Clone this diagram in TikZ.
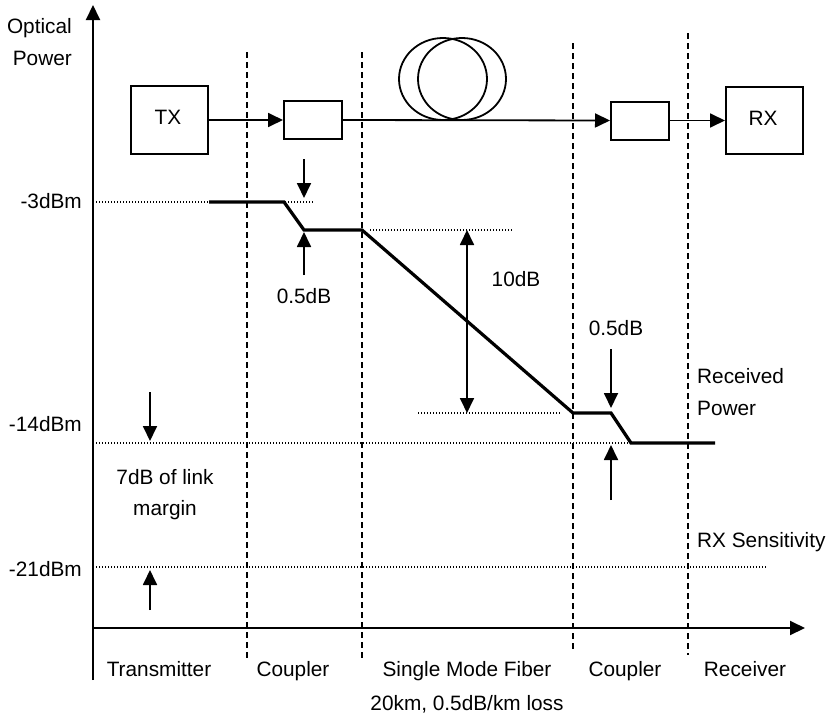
\documentclass[tikz,border=0pt]{standalone}
\usepackage{fontspec}
\setmainfont{Liberation Sans}
\usetikzlibrary{arrows.meta}
\begin{document}
\begin{tikzpicture}[x=1pt,y=-1pt,
  every node/.style={font=\fontsize{20.8}{25}\selectfont, inner sep=0pt},
  tip/.style={-{Triangle[length=15pt,width=14pt]}},
  axisline/.style={line width=2pt, tip},
  boxnode/.style={draw, line width=2pt, minimum width=#1, inner sep=0pt},
  sepline/.style={line width=1.7pt, dash pattern=on 6pt off 4pt},
  guide/.style={line width=1.1pt, dash pattern=on 1pt off 2pt},
  curve/.style={line width=3.2pt},
  mark arrow/.style={line width=1.8pt, tip},
  lbl/.style={anchor=base},
  lble/.style={anchor=base east},
  lblw/.style={anchor=base west}]
\useasboundingbox (0,0) rectangle (833,715);

% axes
\coordinate (yb) at (93,680); \coordinate (yt) at (93,5);
\coordinate (xl) at (93,628); \coordinate (xr) at (805,628);
\draw[axisline] (yb) -- (yt);
\draw[axisline] (xl) -- (xr);

% section separators
\foreach \n/\x/\a/\b in {s1/247/52/658, s2/362/52/658, s3/573/43/652, s4/688/33/655}{
  \coordinate (\n t) at (\x,\a); \coordinate (\n b) at (\x,\b);
  \draw[sepline] (\n t) -- (\n b);
}

% guide lines
\coordinate (g1a) at (96,202); \coordinate (g1b) at (314,202);
\coordinate (g2a) at (370,230); \coordinate (g2b) at (512,230);
\coordinate (g3a) at (418,413); \coordinate (g3b) at (560,413);
\coordinate (g4a) at (96,443); \coordinate (g4b) at (715,443);
\coordinate (g5a) at (96,567); \coordinate (g5b) at (766,567);
\foreach \g in {g1,g2,g3,g4,g5}{ \draw[guide] (\g a) -- (\g b); }

% components
\node[boxnode=77pt, minimum height=68pt] (tx) at (169.5,120) {};
\node[lbl] (txl) at (168,124) {TX};
\node[boxnode=58pt, minimum height=38pt] (c1) at (313,120) {};
\node[boxnode=58pt, minimum height=38pt] (c2) at (640,120.5) {};
\node[boxnode=77pt, minimum height=67pt] (rx) at (764.5,120.5) {};
\node[lbl] (rxl) at (763,125) {RX};
\draw[line width=1.8pt] (443,79) ellipse [x radius=44pt, y radius=41pt];
\draw[line width=1.8pt] (462,79) ellipse [x radius=44pt, y radius=41pt];
\draw[mark arrow] (tx.east) -- (c1.west);
\draw[mark arrow] (c1.east) -- (c2.west);
\draw[mark arrow] (c2.east) -- (rx.west);

% power curve
\draw[curve] (209,202) -- (284,202) -- (304,230) -- (362,230) -- (573,413)
  -- (611,413) -- (631,443) -- (715,443);

% loss markers
\coordinate (a1s) at (304,159); \coordinate (a1e) at (304,198);
\coordinate (a2s) at (304,275); \coordinate (a2e) at (304,232);
\coordinate (a3s) at (467,230); \coordinate (a3e) at (467,413);
\coordinate (a4s) at (611,349); \coordinate (a4e) at (611,408);
\coordinate (a5s) at (611,500); \coordinate (a5e) at (611,445);
\coordinate (a6s) at (150,392); \coordinate (a6e) at (150,441);
\coordinate (a7s) at (150,610); \coordinate (a7e) at (150,570);
\draw[mark arrow] (a1s) -- (a1e);
\draw[mark arrow] (a2s) -- (a2e);
\draw[line width=1.8pt, {Triangle[length=15pt,width=14pt]}-{Triangle[length=15pt,width=14pt]}] (a3s) -- (a3e);
\draw[mark arrow] (a4s) -- (a4e);
\draw[mark arrow] (a5s) -- (a5e);
\draw[mark arrow] (a6s) -- (a6e);
\draw[mark arrow] (a7s) -- (a7e);

% labels
\node[lble] (op) at (72,33) {Optical};
\node[lble] (pw) at (72,65) {Power};
\node[lble] (m3) at (82,208) {-3dBm};
\node[lble] (m14) at (82,431) {-14dBm};
\node[lble] (m21) at (82,576) {-21dBm};
\node[lbl] (l05a) at (304,303) {0.5dB};
\node[lbl] (l10) at (516,286) {10dB};
\node[lbl] (l05b) at (616,335) {0.5dB};
\node[lblw] (rp1) at (697,383) {Received};
\node[lblw] (rp2) at (697,415) {Power};
\node[lblw] (rs) at (697,547) {RX Sensitivity};
\node[lbl] (lm1) at (165,484) {7dB of link};
\node[lbl] (lm2) at (165,515) {margin};
\node[lbl] (b1) at (159,676) {Transmitter};
\node[lbl] (b2) at (293,676) {Coupler};
\node[lbl] (b3) at (467,676) {Single Mode Fiber};
\node[lbl] (b4) at (625,676) {Coupler};
\node[lbl] (b5) at (745,676) {Receiver};
\node[lbl] (b6) at (467,710) {20km, 0.5dB/km loss};
\end{tikzpicture}
\end{document}
